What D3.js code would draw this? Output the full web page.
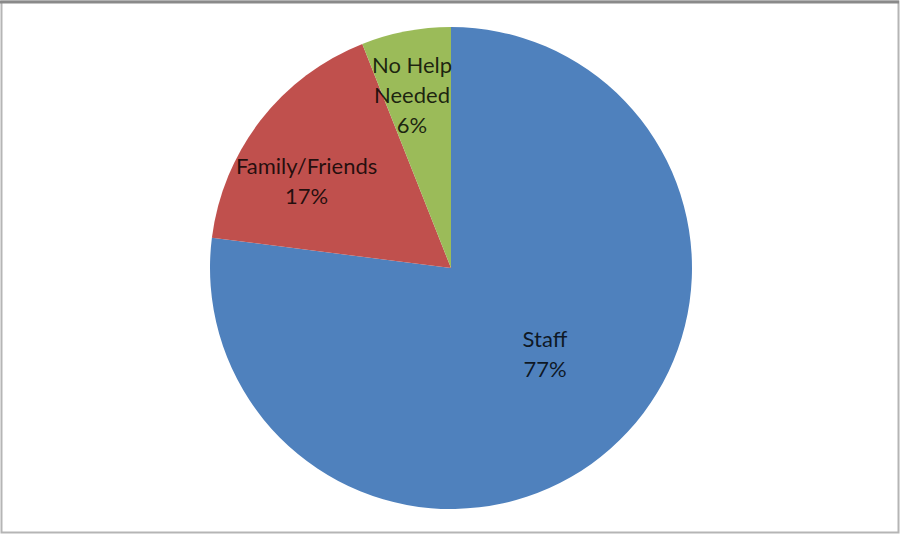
<!DOCTYPE html>
<html>
<head>
<meta charset="utf-8">
<script src="https://cdn.jsdelivr.net/npm/d3@7"></script>
<style>
  html, body { margin: 0; padding: 0; background: #fff; }
  svg { display: block; }
</style>
</head>
<body>
<script>
// Who helped: share of responses
const categories = ["Staff", "Family/Friends", "No Help Needed"];
const values = [77, 17, 6];
const colors = ["#4F81BD", "#C0504D", "#9BBB59"];
// Label text lines for each slice (name split as drawn, then percentage)
const labelLines = [["Staff"], ["Family/Friends"], ["No Help", "Needed"]];

const W = 902, H = 535;
const cx = 451, cy = 268, R = 241;

// Label placement: radius along slice bisector and small nudge
const labelLayout = [
  { r: 127, dx: 10, dy: -9 },
  { r: 165, dx: -14, dy: 14 },
  { r: 176, dx: -6, dy: 0 }
];

const svg = d3.select("body").append("svg")
  .attr("width", W).attr("height", H);

svg.append("rect").attr("x", 0).attr("y", 0).attr("width", W).attr("height", H).attr("fill", "#fff");

// Chart frame
svg.append("rect")
  .attr("x", 1.5).attr("y", 1.5).attr("width", W - 5).attr("height", H - 4)
  .attr("fill", "none").attr("stroke", "#b5b5b5").attr("stroke-width", 2);
svg.append("line")
  .attr("x1", 0).attr("x2", W - 3).attr("y1", 2).attr("y2", 2)
  .attr("stroke", "#8a8a8a").attr("stroke-width", 3);

const data = categories.map((c, i) => ({ name: c, value: values[i], color: colors[i], lines: labelLines[i], layout: labelLayout[i] }));

const pie = d3.pie().value(d => d.value).sort(null);
const arcs = pie(data);
const arc = d3.arc().innerRadius(0).outerRadius(R);

const g = svg.append("g").attr("transform", `translate(${cx},${cy})`);

g.selectAll("path.slice").data(arcs).join("path")
  .attr("class", "slice")
  .attr("d", arc)
  .attr("fill", d => d.data.color)
  .attr("stroke", "none");

const fmt = v => Math.round(v) + "%";
const lineH = 30;
const fontSize = 22;

const labels = g.selectAll("text.lbl").data(arcs).join("text")
  .attr("class", "lbl")
  .attr("font-family", "Lato, 'Open Sans', sans-serif")
  .attr("font-size", fontSize)
  .attr("fill", "#000")
  .attr("fill-opacity", 0.82)
  .attr("text-anchor", "middle")
  .attr("transform", d => {
    const L = d.data.layout;
    const c = d3.arc().innerRadius(L.r).outerRadius(L.r).centroid(d);
    return `translate(${c[0] + L.dx},${c[1] + L.dy})`;
  });

labels.each(function(d) {
  const lines = d.data.lines.concat([fmt(d.data.value)]);
  const t = d3.select(this);
  const n = lines.length;
  lines.forEach((ln, i) => {
    t.append("tspan")
      .attr("x", 0)
      .attr("y", (i - (n - 1) / 2) * lineH + fontSize * 0.35)
      .text(ln);
  });
});
</script>
</body>
</html>
